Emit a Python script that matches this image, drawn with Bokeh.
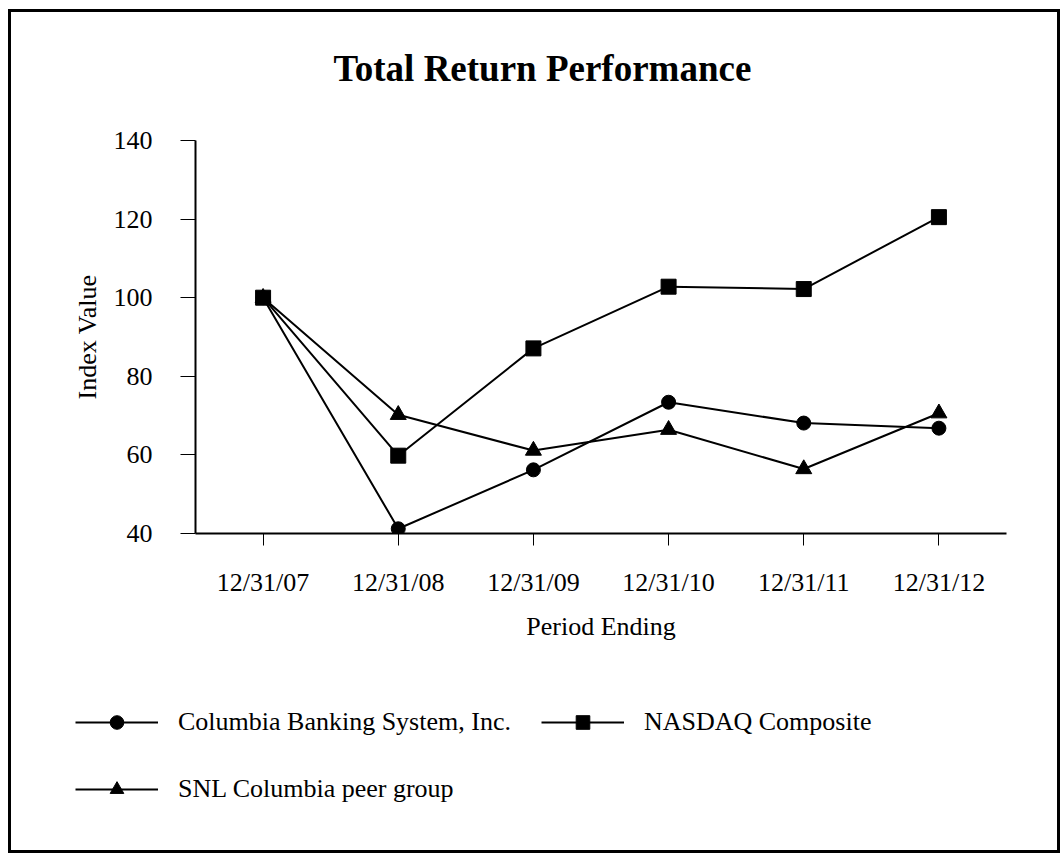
from bokeh.plotting import figure
from bokeh.layouts import column
from bokeh.models import FactorRange, Range1d, FixedTicker, Legend, LegendItem
from bokeh.embed import file_html
from bokeh.resources import INLINE

# ---- data ----
periods = ["12/31/07", "12/31/08", "12/31/09", "12/31/10", "12/31/11", "12/31/12"]
columbia = [100.0, 41.2, 56.2, 73.4, 68.1, 66.8]
nasdaq = [100.0, 59.8, 87.1, 102.8, 102.2, 120.5]
snl_peer = [100.0, 70.2, 61.1, 66.4, 56.4, 70.6]
y_ticks = [40, 60, 80, 100, 120, 140]
series_names = ["Columbia Banking System, Inc.", "NASDAQ Composite", "SNL Columbia peer group"]
title_text = "Total Return Performance"
x_title = "Period Ending"
y_title = "Index Value"

FONT = "Liberation Serif"
W = 1046
TITLE_H = 100
CHART_H = 28 + 393 + 120
LEG_H = 838 - TITLE_H - CHART_H

base = dict(output_backend="svg", toolbar_location=None,
            background_fill_color="white", border_fill_color="white",
            outline_line_color=None)

# ---- title strip ----
t = figure(width=W, height=TITLE_H, x_range=Range1d(0, 1), y_range=Range1d(0, 1),
           x_axis_type=None, y_axis_type=None,
           min_border_left=184, min_border_right=51, min_border_top=TITLE_H - 1,
           min_border_bottom=0, **base)
t.frame_align = False
t.grid.visible = False
t.title.text = title_text
t.title.align = "left"
t.title.offset = 138
t.title.text_font = FONT
t.title.text_font_size = "37px"
t.title.text_font_style = "bold"
t.title.text_color = "black"
t.title.standoff = 45

# ---- main chart ----
p = figure(
    x_range=FactorRange(*periods, range_padding=0),
    y_range=Range1d(40, 140),
    frame_width=811, frame_height=393,
    min_border_left=184, min_border_right=51,
    min_border_top=28, min_border_bottom=120, **base)
p.frame_align = False
p.xgrid.visible = False
p.ygrid.visible = False

for ax in (p.xaxis[0], p.yaxis[0]):
    ax.axis_line_width = 2
    ax.axis_line_color = "black"
    ax.major_tick_in = 0
    ax.major_tick_line_color = "black"
    ax.minor_tick_line_color = None
    ax.major_label_text_font = FONT
    ax.major_label_text_font_size = "26px"
    ax.major_label_text_color = "black"
    ax.axis_label_text_font = FONT
    ax.axis_label_text_font_size = "26px"
    ax.axis_label_text_font_style = "normal"
    ax.axis_label_text_color = "black"

p.xaxis.major_tick_out = 12
p.xaxis.major_label_standoff = 22
p.xaxis.axis_label = x_title
p.xaxis.axis_label_standoff = 12

p.yaxis.ticker = FixedTicker(ticks=y_ticks)
p.yaxis.major_tick_out = 15
p.yaxis.major_label_standoff = 28
p.yaxis.axis_label = y_title
p.yaxis.axis_label_standoff = 9

series = [columbia, nasdaq, snl_peer]
markers = ["circle", "square", "triangle"]
msizes = [14, 15, 16]
for vals, mk, ms in zip(series, markers, msizes):
    p.line(periods, vals, line_color="black", line_width=2)
    p.scatter(periods, vals, marker=mk, size=ms, color="black")

# ---- legend strip (series kept outside its visible range; only the key shows) ----
q = figure(width=W, height=LEG_H,
           x_range=FactorRange(*periods, range_padding=0), y_range=Range1d(1000, 1001),
           x_axis_type=None, y_axis_type=None, min_border=0, **base)
q.frame_align = False
q.grid.visible = False

items = []
for name, vals, mk in zip(series_names, series, markers):
    lr = q.line(periods, vals, line_color="black", line_width=2)
    sr = q.scatter(periods, vals, marker=mk, color="black")
    items.append(LegendItem(label=name, renderers=[lr, sr]))

common = dict(orientation="horizontal", glyph_width=83, glyph_height=34, label_height=30,
              label_standoff=20, spacing=30, padding=0, margin=0,
              border_line_color=None, background_fill_alpha=0,
              label_text_font=FONT, label_text_font_size="26px", label_text_color="black")

legA = Legend(items=items[:2], location=(64, LEG_H - 86), **common)
legB = Legend(items=items[2:], location=(64, LEG_H - 153), **common)
q.add_layout(legA)
q.add_layout(legB)

layout = column(t, p, q, spacing=0,
                styles={"border": "3px solid black", "margin-left": "8px", "margin-top": "9px"})

open("out.html", "w").write(file_html(layout, INLINE))
